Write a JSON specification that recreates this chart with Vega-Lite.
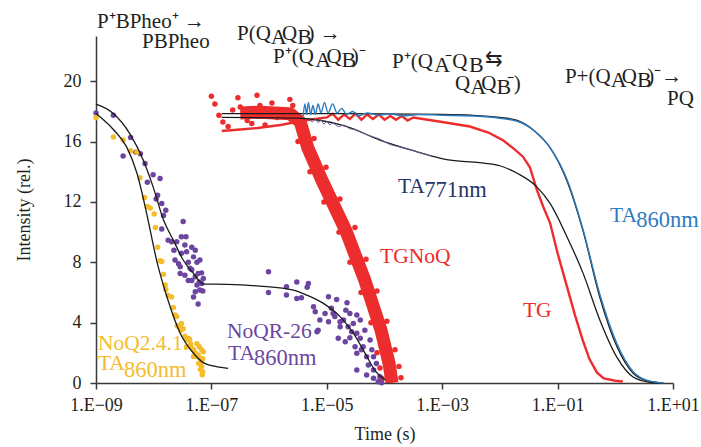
{
  "$schema": "https://vega.github.io/schema/vega-lite/v6.json",
  "width": 577,
  "height": 347,
  "autosize": "none",
  "padding": {"left": 96, "top": 36, "right": 28, "bottom": 64},
  "background": "white",
  "config": {
    "font": "Liberation Serif",
    "view": {"stroke": null},
    "axis": {
      "grid": false,
      "domainColor": "#3a3a3a",
      "domainWidth": 1.5,
      "tickColor": "#3a3a3a",
      "tickWidth": 1.5,
      "tickSize": 6,
      "labelFont": "Liberation Serif",
      "labelFontSize": 18,
      "labelColor": "#231f20",
      "titleFont": "Liberation Serif",
      "titleFontSize": 18,
      "titleFontWeight": "normal",
      "titleColor": "#231f20"
    }
  },
  "datasets": {
    "lines": [
      {"s": "TGNoQ", "t": 3.16e-7, "v": 17.9},
      {"s": "TGNoQ", "t": 6.92e-7, "v": 17.95},
      {"s": "TGNoQ", "t": 2.29e-6, "v": 17.85},
      {"s": "TGNoQ", "t": 3.47e-6, "v": 17.3},
      {"s": "TGNoQ", "t": 4.68e-6, "v": 15.6},
      {"s": "TGNoQ", "t": 8.32e-6, "v": 13.4},
      {"s": "TGNoQ", "t": 2.14e-5, "v": 10.1},
      {"s": "TGNoQ", "t": 4.57e-5, "v": 6.8},
      {"s": "TGNoQ", "t": 8.71e-5, "v": 3.5},
      {"s": "TGNoQ", "t": 1.2e-4, "v": 1.3},
      {"s": "TGNoQ", "t": 1.35e-4, "v": 0.0},

      {"s": "TG", "t": 1.51e-7, "v": 16.7},
      {"s": "TG", "t": 3.16e-7, "v": 16.8},
      {"s": "TG", "t": 6.31e-7, "v": 16.9},
      {"s": "TG", "t": 1.58e-6, "v": 17.1},
      {"s": "TG", "t": 3.98e-6, "v": 17.4},
      {"s": "TG", "t": 1.0e-5, "v": 17.6},
      {"s": "TG", "t": 1.26e-5, "v": 17.85},
      {"s": "TG", "t": 1.58e-5, "v": 17.45},
      {"s": "TG", "t": 2.0e-5, "v": 17.8},
      {"s": "TG", "t": 2.51e-5, "v": 17.5},
      {"s": "TG", "t": 3.16e-5, "v": 17.85},
      {"s": "TG", "t": 3.98e-5, "v": 17.45},
      {"s": "TG", "t": 5.01e-5, "v": 17.8},
      {"s": "TG", "t": 6.31e-5, "v": 17.5},
      {"s": "TG", "t": 7.94e-5, "v": 17.8},
      {"s": "TG", "t": 1.0e-4, "v": 17.45},
      {"s": "TG", "t": 1.26e-4, "v": 17.7},
      {"s": "TG", "t": 1.58e-4, "v": 17.45},
      {"s": "TG", "t": 2.0e-4, "v": 17.7},
      {"s": "TG", "t": 2.51e-4, "v": 17.4},
      {"s": "TG", "t": 3.16e-4, "v": 17.6},
      {"s": "TG", "t": 1.0e-3, "v": 17.3},
      {"s": "TG", "t": 3.02e-3, "v": 17.0},
      {"s": "TG", "t": 6.31e-3, "v": 16.6},
      {"s": "TG", "t": 1.12e-2, "v": 16.1},
      {"s": "TG", "t": 1.78e-2, "v": 15.5},
      {"s": "TG", "t": 2.51e-2, "v": 15.0},
      {"s": "TG", "t": 3.31e-2, "v": 14.3},
      {"s": "TG", "t": 4.37e-2, "v": 12.8},
      {"s": "TG", "t": 5.62e-2, "v": 11.7},
      {"s": "TG", "t": 7.41e-2, "v": 10.6},
      {"s": "TG", "t": 0.1, "v": 8.6},
      {"s": "TG", "t": 0.145, "v": 6.4},
      {"s": "TG", "t": 0.2, "v": 4.5},
      {"s": "TG", "t": 0.275, "v": 2.8},
      {"s": "TG", "t": 0.355, "v": 1.6},
      {"s": "TG", "t": 0.479, "v": 0.7},
      {"s": "TG", "t": 0.631, "v": 0.3},
      {"s": "TG", "t": 1.0, "v": 0.15},
      {"s": "TG", "t": 1.35, "v": 0.1},

      {"s": "fitNoQ", "t": 1.0e-9, "v": 17.86},
      {"s": "fitNoQ", "t": 2.0e-9, "v": 16.8},
      {"s": "fitNoQ", "t": 3.39e-9, "v": 15.65},
      {"s": "fitNoQ", "t": 5.13e-9, "v": 13.9},
      {"s": "fitNoQ", "t": 7.59e-9, "v": 11.2},
      {"s": "fitNoQ", "t": 1.12e-8, "v": 8.15},
      {"s": "fitNoQ", "t": 1.7e-8, "v": 5.7},
      {"s": "fitNoQ", "t": 2.88e-8, "v": 3.3},
      {"s": "fitNoQ", "t": 4.9e-8, "v": 1.97},
      {"s": "fitNoQ", "t": 7.24e-8, "v": 1.35},
      {"s": "fitNoQ", "t": 1.23e-7, "v": 1.08},
      {"s": "fitNoQ", "t": 1.95e-7, "v": 0.97},

      {"s": "fitNoQR", "t": 1.0e-9, "v": 18.48},
      {"s": "fitNoQR", "t": 2.0e-9, "v": 17.86},
      {"s": "fitNoQR", "t": 3.89e-9, "v": 16.5},
      {"s": "fitNoQR", "t": 6.61e-9, "v": 14.77},
      {"s": "fitNoQR", "t": 9.77e-9, "v": 13.0},
      {"s": "fitNoQR", "t": 1.48e-8, "v": 10.8},
      {"s": "fitNoQR", "t": 2.19e-8, "v": 9.47},
      {"s": "fitNoQR", "t": 3.24e-8, "v": 8.15},
      {"s": "fitNoQR", "t": 4.9e-8, "v": 7.26},
      {"s": "fitNoQR", "t": 7.24e-8, "v": 6.56},
      {"s": "fitNoQR", "t": 1.86e-7, "v": 6.54},
      {"s": "fitNoQR", "t": 6.92e-7, "v": 6.42},
      {"s": "fitNoQR", "t": 2.63e-6, "v": 6.16},
      {"s": "fitNoQR", "t": 4.47e-6, "v": 5.83},
      {"s": "fitNoQR", "t": 8.71e-6, "v": 5.28},
      {"s": "fitNoQR", "t": 1.7e-5, "v": 4.4},
      {"s": "fitNoQR", "t": 2.88e-5, "v": 3.3},
      {"s": "fitNoQR", "t": 4.57e-5, "v": 2.0},
      {"s": "fitNoQR", "t": 6.92e-5, "v": 0.8},
      {"s": "fitNoQR", "t": 1.02e-4, "v": 0.2},

      {"s": "fit860", "t": 1.51e-7, "v": 17.85},
      {"s": "fit860", "t": 1.0e-5, "v": 17.85},
      {"s": "fit860", "t": 1.0e-3, "v": 17.8},
      {"s": "fit860", "t": 3.16e-3, "v": 17.75},
      {"s": "fit860", "t": 1.0e-2, "v": 17.6},
      {"s": "fit860", "t": 2.0e-2, "v": 17.4},
      {"s": "fit860", "t": 3.98e-2, "v": 16.7},
      {"s": "fit860", "t": 7.41e-2, "v": 15.6},
      {"s": "fit860", "t": 0.145, "v": 13.4},
      {"s": "fit860", "t": 0.275, "v": 10.1},
      {"s": "fit860", "t": 0.537, "v": 5.7},
      {"s": "fit860", "t": 1.07, "v": 2.4},
      {"s": "fit860", "t": 2.04, "v": 0.65},
      {"s": "fit860", "t": 3.98, "v": 0.1},
      {"s": "fit860", "t": 6.76, "v": 0.0},

      {"s": "fit771", "t": 1.51e-7, "v": 17.6},
      {"s": "fit771", "t": 3.16e-6, "v": 17.55},
      {"s": "fit771", "t": 7.94e-6, "v": 17.4},
      {"s": "fit771", "t": 2.24e-5, "v": 17.0},
      {"s": "fit771", "t": 8.32e-5, "v": 16.1},
      {"s": "fit771", "t": 3.16e-4, "v": 15.4},
      {"s": "fit771", "t": 1.2e-3, "v": 14.8},
      {"s": "fit771", "t": 4.47e-3, "v": 14.6},
      {"s": "fit771", "t": 1.0e-2, "v": 14.4},
      {"s": "fit771", "t": 2.0e-2, "v": 13.9},
      {"s": "fit771", "t": 4.37e-2, "v": 13.0},
      {"s": "fit771", "t": 7.41e-2, "v": 11.9},
      {"s": "fit771", "t": 0.145, "v": 9.7},
      {"s": "fit771", "t": 0.275, "v": 7.3},
      {"s": "fit771", "t": 0.537, "v": 4.2},
      {"s": "fit771", "t": 1.07, "v": 1.7},
      {"s": "fit771", "t": 2.04, "v": 0.4},
      {"s": "fit771", "t": 3.98, "v": 0.05},
      {"s": "fit771", "t": 6.76, "v": 0.0},

      {"s": "TA860", "t": 3.89e-6, "v": 17.7},
      {"s": "TA860", "t": 4.17e-6, "v": 18.5},
      {"s": "TA860", "t": 4.47e-6, "v": 17.8},
      {"s": "TA860", "t": 4.79e-6, "v": 18.6},
      {"s": "TA860", "t": 5.25e-6, "v": 17.8},
      {"s": "TA860", "t": 5.75e-6, "v": 18.4},
      {"s": "TA860", "t": 6.31e-6, "v": 17.8},
      {"s": "TA860", "t": 7.08e-6, "v": 18.5},
      {"s": "TA860", "t": 7.94e-6, "v": 17.9},
      {"s": "TA860", "t": 9.12e-6, "v": 18.6},
      {"s": "TA860", "t": 1.05e-5, "v": 17.9},
      {"s": "TA860", "t": 1.26e-5, "v": 18.5},
      {"s": "TA860", "t": 1.51e-5, "v": 17.9},
      {"s": "TA860", "t": 1.82e-5, "v": 18.2},
      {"s": "TA860", "t": 2.19e-5, "v": 17.8},
      {"s": "TA860", "t": 2.82e-5, "v": 18.0},
      {"s": "TA860", "t": 3.55e-5, "v": 17.7},
      {"s": "TA860", "t": 5.01e-5, "v": 17.9},
      {"s": "TA860", "t": 7.94e-5, "v": 17.75},
      {"s": "TA860", "t": 1.26e-4, "v": 17.85},
      {"s": "TA860", "t": 2.0e-4, "v": 17.7},
      {"s": "TA860", "t": 3.98e-4, "v": 17.8},
      {"s": "TA860", "t": 1.0e-3, "v": 17.75},
      {"s": "TA860", "t": 3.16e-3, "v": 17.7},
      {"s": "TA860", "t": 1.0e-2, "v": 17.55},
      {"s": "TA860", "t": 2.0e-2, "v": 17.35},
      {"s": "TA860", "t": 3.98e-2, "v": 16.7},
      {"s": "TA860", "t": 7.41e-2, "v": 15.6},
      {"s": "TA860", "t": 0.145, "v": 13.5},
      {"s": "TA860", "t": 0.275, "v": 10.2},
      {"s": "TA860", "t": 0.537, "v": 5.9},
      {"s": "TA860", "t": 1.07, "v": 2.6},
      {"s": "TA860", "t": 2.04, "v": 0.75},
      {"s": "TA860", "t": 3.98, "v": 0.12},
      {"s": "TA860", "t": 6.76, "v": 0.0},

      {"s": "TA771", "t": 5.01e-6, "v": 17.45},
      {"s": "TA771", "t": 5.62e-6, "v": 17.3},
      {"s": "TA771", "t": 6.31e-6, "v": 17.5},
      {"s": "TA771", "t": 7.08e-6, "v": 17.25},
      {"s": "TA771", "t": 7.94e-6, "v": 17.45},
      {"s": "TA771", "t": 8.91e-6, "v": 17.15},
      {"s": "TA771", "t": 1.0e-5, "v": 17.35},
      {"s": "TA771", "t": 1.12e-5, "v": 17.1},
      {"s": "TA771", "t": 1.26e-5, "v": 17.25},
      {"s": "TA771", "t": 1.58e-5, "v": 17.0},
      {"s": "TA771", "t": 2.0e-5, "v": 17.1},
      {"s": "TA771", "t": 2.51e-5, "v": 16.85},
      {"s": "TA771", "t": 3.16e-5, "v": 16.8},
      {"s": "TA771", "t": 5.01e-5, "v": 16.45},
      {"s": "TA771", "t": 7.94e-5, "v": 16.2},
      {"s": "TA771", "t": 1.26e-4, "v": 15.8},
      {"s": "TA771", "t": 2.0e-4, "v": 15.6},
      {"s": "TA771", "t": 3.16e-4, "v": 15.4},
      {"s": "TA771", "t": 6.31e-4, "v": 15.05}
    ],
    "pts": [
      {"s": "TGNoQ", "t": 1.0e-7, "v": 19.0},
      {"s": "TGNoQ", "t": 1.15e-7, "v": 18.5},
      {"s": "TGNoQ", "t": 1.35e-7, "v": 17.75},
      {"s": "TGNoQ", "t": 1.58e-7, "v": 17.3},
      {"s": "TGNoQ", "t": 1.95e-7, "v": 17.0},
      {"s": "TGNoQ", "t": 2.34e-7, "v": 18.1},
      {"s": "TGNoQ", "t": 2.88e-7, "v": 18.9},
      {"s": "TGNoQ", "t": 3.16e-7, "v": 18.3},
      {"s": "TGNoQ", "t": 4.17e-7, "v": 17.4},
      {"s": "TGNoQ", "t": 5.01e-7, "v": 17.2},
      {"s": "TGNoQ", "t": 6.17e-7, "v": 19.07},
      {"s": "TGNoQ", "t": 6.92e-7, "v": 18.4},
      {"s": "TGNoQ", "t": 8.51e-7, "v": 17.1},
      {"s": "TGNoQ", "t": 1.12e-6, "v": 18.56},
      {"s": "TGNoQ", "t": 1.38e-6, "v": 17.6},
      {"s": "TGNoQ", "t": 2.29e-6, "v": 18.8},
      {"s": "TGNoQ", "t": 2.57e-6, "v": 18.4},
      {"s": "TGNoQ", "t": 3.17e-6, "v": 16.0},
      {"s": "TGNoQ", "t": 6.0e-6, "v": 16.2},
      {"s": "TGNoQ", "t": 5.12e-6, "v": 14.0},
      {"s": "TGNoQ", "t": 9.68e-6, "v": 14.3},
      {"s": "TGNoQ", "t": 8.93e-6, "v": 12.0},
      {"s": "TGNoQ", "t": 1.69e-5, "v": 12.2},
      {"s": "TGNoQ", "t": 1.63e-5, "v": 10.0},
      {"s": "TGNoQ", "t": 3.08e-5, "v": 10.3},
      {"s": "TGNoQ", "t": 2.52e-5, "v": 8.0},
      {"s": "TGNoQ", "t": 4.78e-5, "v": 8.2},
      {"s": "TGNoQ", "t": 3.92e-5, "v": 6.0},
      {"s": "TGNoQ", "t": 7.41e-5, "v": 6.1},
      {"s": "TGNoQ", "t": 5.83e-5, "v": 4.0},
      {"s": "TGNoQ", "t": 1.1e-4, "v": 4.1},
      {"s": "TGNoQ", "t": 7.41e-5, "v": 2.0},
      {"s": "TGNoQ", "t": 1.52e-4, "v": 2.2},
      {"s": "TGNoQ", "t": 8.36e-5, "v": 1.0},
      {"s": "TGNoQ", "t": 1.78e-4, "v": 1.1},
      {"s": "TGNoQ", "t": 9.06e-5, "v": 0.3},
      {"s": "TGNoQ", "t": 1.93e-4, "v": 0.35},

      {"s": "NoQ", "t": 1.0e-9, "v": 17.6},
      {"s": "NoQ", "t": 2.0e-9, "v": 16.3},
      {"s": "NoQ", "t": 2.95e-9, "v": 16.1},
      {"s": "NoQ", "t": 3.98e-9, "v": 15.4},
      {"s": "NoQ", "t": 5.13e-9, "v": 15.3},
      {"s": "NoQ", "t": 5.75e-9, "v": 13.6},
      {"s": "NoQ", "t": 6.92e-9, "v": 12.3},
      {"s": "NoQ", "t": 7.76e-9, "v": 11.7},
      {"s": "NoQ", "t": 8.71e-9, "v": 11.6},
      {"s": "NoQ", "t": 1.02e-8, "v": 11.2},
      {"s": "NoQ", "t": 1.07e-8, "v": 10.3},
      {"s": "NoQ", "t": 1.17e-8, "v": 9.0},
      {"s": "NoQ", "t": 1.29e-8, "v": 8.1},
      {"s": "NoQ", "t": 1.38e-8, "v": 8.05},
      {"s": "NoQ", "t": 1.48e-8, "v": 7.2},
      {"s": "NoQ", "t": 1.58e-8, "v": 6.5},
      {"s": "NoQ", "t": 1.62e-8, "v": 6.2},
      {"s": "NoQ", "t": 1.78e-8, "v": 5.8},
      {"s": "NoQ", "t": 2.04e-8, "v": 5.7},
      {"s": "NoQ", "t": 2.19e-8, "v": 5.0},
      {"s": "NoQ", "t": 2.34e-8, "v": 4.5},
      {"s": "NoQ", "t": 2.51e-8, "v": 4.4},
      {"s": "NoQ", "t": 2.57e-8, "v": 3.8},
      {"s": "NoQ", "t": 2.75e-8, "v": 3.7},
      {"s": "NoQ", "t": 2.95e-8, "v": 3.5},
      {"s": "NoQ", "t": 3.02e-8, "v": 3.95},
      {"s": "NoQ", "t": 3.24e-8, "v": 3.6},
      {"s": "NoQ", "t": 3.47e-8, "v": 3.1},
      {"s": "NoQ", "t": 3.72e-8, "v": 2.85},
      {"s": "NoQ", "t": 3.72e-8, "v": 2.4},
      {"s": "NoQ", "t": 3.98e-8, "v": 2.95},
      {"s": "NoQ", "t": 4.17e-8, "v": 2.9},
      {"s": "NoQ", "t": 4.37e-8, "v": 2.6},
      {"s": "NoQ", "t": 4.57e-8, "v": 2.3},
      {"s": "NoQ", "t": 4.9e-8, "v": 2.2},
      {"s": "NoQ", "t": 4.9e-8, "v": 1.75},
      {"s": "NoQ", "t": 5.25e-8, "v": 2.0},
      {"s": "NoQ", "t": 5.62e-8, "v": 1.75},
      {"s": "NoQ", "t": 5.62e-8, "v": 2.6},
      {"s": "NoQ", "t": 5.89e-8, "v": 1.85},
      {"s": "NoQ", "t": 6.03e-8, "v": 1.3},
      {"s": "NoQ", "t": 6.17e-8, "v": 2.4},
      {"s": "NoQ", "t": 6.31e-8, "v": 1.65},
      {"s": "NoQ", "t": 6.46e-8, "v": 0.9},
      {"s": "NoQ", "t": 6.61e-8, "v": 1.4},
      {"s": "NoQ", "t": 6.76e-8, "v": 1.1},
      {"s": "NoQ", "t": 6.76e-8, "v": 2.2},
      {"s": "NoQ", "t": 6.92e-8, "v": 0.55},
      {"s": "NoQ", "t": 7.08e-8, "v": 0.75},
      {"s": "NoQ", "t": 7.08e-8, "v": 1.6},
      {"s": "NoQ", "t": 7.24e-8, "v": 2.07},

      {"s": "NoQR", "t": 1.0e-9, "v": 17.9},
      {"s": "NoQR", "t": 2.0e-9, "v": 17.75},
      {"s": "NoQR", "t": 2.95e-9, "v": 15.05},
      {"s": "NoQR", "t": 3.98e-9, "v": 16.27},
      {"s": "NoQR", "t": 4.9e-9, "v": 15.3},
      {"s": "NoQR", "t": 5.89e-9, "v": 15.2},
      {"s": "NoQR", "t": 7.08e-9, "v": 14.55},
      {"s": "NoQR", "t": 7.76e-9, "v": 13.3},
      {"s": "NoQR", "t": 9.77e-9, "v": 13.8},
      {"s": "NoQR", "t": 1.29e-8, "v": 13.55},
      {"s": "NoQR", "t": 1.17e-8, "v": 12.45},
      {"s": "NoQR", "t": 1.1e-8, "v": 12.2},
      {"s": "NoQR", "t": 1.38e-8, "v": 11.9},
      {"s": "NoQR", "t": 1.48e-8, "v": 11.1},
      {"s": "NoQR", "t": 1.62e-8, "v": 11.45},
      {"s": "NoQR", "t": 1.38e-8, "v": 10.2},
      {"s": "NoQR", "t": 1.78e-8, "v": 9.47},
      {"s": "NoQR", "t": 2.04e-8, "v": 9.36},
      {"s": "NoQR", "t": 2.51e-8, "v": 9.36},
      {"s": "NoQR", "t": 3.24e-8, "v": 10.7},
      {"s": "NoQR", "t": 3.02e-8, "v": 9.7},
      {"s": "NoQR", "t": 3.63e-8, "v": 9.7},
      {"s": "NoQR", "t": 2.24e-8, "v": 8.8},
      {"s": "NoQR", "t": 2.34e-8, "v": 8.15},
      {"s": "NoQR", "t": 2.69e-8, "v": 7.9},
      {"s": "NoQR", "t": 2.88e-8, "v": 7.7},
      {"s": "NoQR", "t": 3.02e-8, "v": 8.6},
      {"s": "NoQR", "t": 3.47e-8, "v": 9.14},
      {"s": "NoQR", "t": 3.72e-8, "v": 8.7},
      {"s": "NoQR", "t": 3.98e-8, "v": 8.0},
      {"s": "NoQR", "t": 4.27e-8, "v": 7.6},
      {"s": "NoQR", "t": 4.57e-8, "v": 9.0},
      {"s": "NoQR", "t": 4.9e-8, "v": 8.36},
      {"s": "NoQR", "t": 5.25e-8, "v": 8.8},
      {"s": "NoQR", "t": 5.62e-8, "v": 8.0},
      {"s": "NoQR", "t": 6.31e-8, "v": 8.15},
      {"s": "NoQR", "t": 2.88e-8, "v": 7.26},
      {"s": "NoQR", "t": 3.47e-8, "v": 7.15},
      {"s": "NoQR", "t": 3.98e-8, "v": 6.8},
      {"s": "NoQR", "t": 4.57e-8, "v": 7.5},
      {"s": "NoQR", "t": 5.25e-8, "v": 7.04},
      {"s": "NoQR", "t": 5.89e-8, "v": 7.26},
      {"s": "NoQR", "t": 6.76e-8, "v": 7.3},
      {"s": "NoQR", "t": 7.24e-8, "v": 6.93},
      {"s": "NoQR", "t": 6.76e-8, "v": 6.6},
      {"s": "NoQR", "t": 6.17e-8, "v": 6.7},
      {"s": "NoQR", "t": 5.62e-8, "v": 6.5},
      {"s": "NoQR", "t": 5.25e-8, "v": 6.05},
      {"s": "NoQR", "t": 4.9e-8, "v": 5.7},
      {"s": "NoQR", "t": 5.89e-8, "v": 5.23},
      {"s": "NoQR", "t": 6.31e-8, "v": 6.16},
      {"s": "NoQR", "t": 7.08e-8, "v": 6.1},
      {"s": "NoQR", "t": 4.57e-8, "v": 6.8},
      {"s": "NoQR", "t": 9.77e-7, "v": 7.37},
      {"s": "NoQR", "t": 9.77e-7, "v": 6.0},
      {"s": "NoQR", "t": 2.0e-6, "v": 6.38},
      {"s": "NoQR", "t": 2.0e-6, "v": 5.83},
      {"s": "NoQR", "t": 3.02e-6, "v": 6.7},
      {"s": "NoQR", "t": 3.02e-6, "v": 5.6},
      {"s": "NoQR", "t": 3.63e-6, "v": 5.65},
      {"s": "NoQR", "t": 4.79e-6, "v": 6.6},
      {"s": "NoQR", "t": 4.57e-6, "v": 6.34},
      {"s": "NoQR", "t": 5.89e-6, "v": 5.05},
      {"s": "NoQR", "t": 6.31e-6, "v": 4.72},
      {"s": "NoQR", "t": 1.07e-5, "v": 5.72},
      {"s": "NoQR", "t": 1.48e-5, "v": 5.54},
      {"s": "NoQR", "t": 2.24e-5, "v": 5.32},
      {"s": "NoQR", "t": 2.14e-5, "v": 4.83},
      {"s": "NoQR", "t": 9.33e-6, "v": 4.6},
      {"s": "NoQR", "t": 7.59e-6, "v": 4.17},
      {"s": "NoQR", "t": 7.08e-6, "v": 3.5},
      {"s": "NoQR", "t": 6.76e-6, "v": 3.4},
      {"s": "NoQR", "t": 1.2e-5, "v": 4.95},
      {"s": "NoQR", "t": 1.38e-5, "v": 4.4},
      {"s": "NoQR", "t": 1.7e-5, "v": 4.06},
      {"s": "NoQR", "t": 1.95e-5, "v": 4.17},
      {"s": "NoQR", "t": 1.58e-5, "v": 2.96},
      {"s": "NoQR", "t": 2.09e-5, "v": 2.74},
      {"s": "NoQR", "t": 2.34e-5, "v": 3.73},
      {"s": "NoQR", "t": 2.88e-5, "v": 3.95},
      {"s": "NoQR", "t": 2.69e-5, "v": 3.4},
      {"s": "NoQR", "t": 3.31e-5, "v": 3.3},
      {"s": "NoQR", "t": 3.8e-5, "v": 2.96},
      {"s": "NoQR", "t": 3.09e-5, "v": 2.4},
      {"s": "NoQR", "t": 3.31e-5, "v": 1.97},
      {"s": "NoQR", "t": 4.27e-5, "v": 2.4},
      {"s": "NoQR", "t": 4.9e-5, "v": 1.74},
      {"s": "NoQR", "t": 5.25e-5, "v": 1.19},
      {"s": "NoQR", "t": 3.31e-5, "v": 0.86},
      {"s": "NoQR", "t": 4.9e-5, "v": 0.53},
      {"s": "NoQR", "t": 6.46e-5, "v": 0.86},
      {"s": "NoQR", "t": 6.46e-5, "v": 0.31},
      {"s": "NoQR", "t": 7.76e-5, "v": 0.09},
      {"s": "NoQR", "t": 7.24e-5, "v": 1.3},
      {"s": "NoQR", "t": 8.32e-5, "v": 0.42},
      {"s": "NoQR", "t": 8.91e-5, "v": 0.02},
      {"s": "NoQR", "t": 5.62e-5, "v": 2.85},
      {"s": "NoQR", "t": 4.57e-5, "v": 3.5},
      {"s": "NoQR", "t": 3.8e-5, "v": 4.17},
      {"s": "NoQR", "t": 3.31e-5, "v": 4.5},
      {"s": "NoQR", "t": 2.51e-5, "v": 4.6},
      {"s": "NoQR", "t": 1.29e-5, "v": 4.6},
      {"s": "NoQR", "t": 1.7e-5, "v": 3.73},
      {"s": "NoQR", "t": 1.07e-5, "v": 4.06},
      {"s": "NoQR", "t": 2.51e-5, "v": 3.0},
      {"s": "NoQR", "t": 3.98e-5, "v": 2.2},
      {"s": "NoQR", "t": 6.46e-5, "v": 1.74},
      {"s": "NoQR", "t": 6.03e-5, "v": 2.2}
    ],
    "labels": [
      {"s": "ann", "r": "m", "t": 1.04e-9, "v": 23.51, "txt": "P⁺BPheo⁺ →"},
      {"s": "ann", "r": "m", "t": 6.27e-9, "v": 22.2, "txt": "PBPheo"},
      {"s": "ann", "r": "m", "t": 2.78e-7, "v": 22.73, "txt": "P(Q"},
      {"s": "ann", "r": "s", "t": 1.07e-6, "v": 22.47, "txt": "A"},
      {"s": "ann", "r": "m", "t": 1.67e-6, "v": 22.73, "txt": "Q"},
      {"s": "ann", "r": "s", "t": 3.06e-6, "v": 22.47, "txt": "B"},
      {"s": "ann", "r": "m", "t": 4.62e-6, "v": 22.73, "txt": ") →"},
      {"s": "ann", "r": "m", "t": 1.17e-6, "v": 21.19, "txt": "P⁺(Q"},
      {"s": "ann", "r": "s", "t": 6.32e-6, "v": 20.94, "txt": "A"},
      {"s": "ann", "r": "m", "t": 9.85e-6, "v": 21.19, "txt": "Q"},
      {"s": "ann", "r": "s", "t": 1.8e-5, "v": 20.94, "txt": "B"},
      {"s": "ann", "r": "m", "t": 2.72e-5, "v": 21.19, "txt": ")⁻"},
      {"s": "ann", "r": "m", "t": 1.35e-4, "v": 20.85, "txt": "P⁺(Q"},
      {"s": "ann", "r": "s", "t": 7.29e-4, "v": 20.61, "txt": "A"},
      {"s": "ann", "r": "m", "t": 1.13e-3, "v": 20.85, "txt": "⁻Q"},
      {"s": "ann", "r": "s", "t": 2.91e-3, "v": 20.61, "txt": "B"},
      {"s": "ann", "r": "m", "t": 5.6e-3, "v": 20.99, "txt": "⇆"},
      {"s": "ann", "r": "m", "t": 1.67e-3, "v": 19.42, "txt": "Q"},
      {"s": "ann", "r": "s", "t": 3.05e-3, "v": 19.18, "txt": "A"},
      {"s": "ann", "r": "m", "t": 4.76e-3, "v": 19.42, "txt": "Q"},
      {"s": "ann", "r": "s", "t": 8.74e-3, "v": 19.18, "txt": "B"},
      {"s": "ann", "r": "m", "t": 1.32e-2, "v": 19.42, "txt": "⁻)"},
      {"s": "ann", "r": "m", "t": 0.134, "v": 19.86, "txt": "P+(Q"},
      {"s": "ann", "r": "s", "t": 0.832, "v": 19.62, "txt": "A"},
      {"s": "ann", "r": "m", "t": 1.296, "v": 19.86, "txt": "Q"},
      {"s": "ann", "r": "s", "t": 2.37, "v": 19.62, "txt": "B"},
      {"s": "ann", "r": "m", "t": 3.59, "v": 19.86, "txt": ")⁻→"},
      {"s": "ann", "r": "m", "t": 7.87, "v": 18.42, "txt": "PQ"},
      {"s": "TGNoQ", "r": "l", "t": 8.36e-5, "v": 7.95, "txt": "TGNoQ"},
      {"s": "TG", "r": "l", "t": 2.51e-2, "v": 4.37, "txt": "TG"},
      {"s": "TA771", "r": "l", "t": 1.71e-4, "v": 12.59, "txt": "TA"},
      {"s": "TA771", "r": "n", "t": 4.9e-4, "v": 12.33, "txt": "771nm"},
      {"s": "TA860", "r": "l", "t": 0.809, "v": 10.67, "txt": "TA"},
      {"s": "TA860", "r": "n", "t": 2.3, "v": 10.34, "txt": "860nm"},
      {"s": "NoQR", "r": "l", "t": 1.86e-7, "v": 2.98, "txt": "NoQR-26"},
      {"s": "NoQR", "r": "l", "t": 1.94e-7, "v": 1.52, "txt": "TA"},
      {"s": "NoQR", "r": "n", "t": 5.5e-7, "v": 1.19, "txt": "860nm"},
      {"s": "NoQ", "r": "l", "t": 1.08e-9, "v": 2.19, "txt": "NoQ2.4.1."},
      {"s": "NoQ", "r": "l", "t": 1.08e-9, "v": 0.86, "txt": "TA"},
      {"s": "NoQ", "r": "n", "t": 3.07e-9, "v": 0.4, "txt": "860nm"}
    ]
  },
  "encoding": {
    "x": {
      "field": "t",
      "type": "quantitative",
      "scale": {"type": "log", "domain": [1e-9, 10], "nice": false},
      "axis": {
        "title": "Time (s)",
        "values": [1e-9, 1e-7, 1e-5, 1e-3, 1e-1, 10],
        "labelExpr": "'1.E' + (round(log(datum.value)/LN10) < 0 ? '−' : '+') + (abs(round(log(datum.value)/LN10)) < 10 ? '0' : '') + abs(round(log(datum.value)/LN10))",
        "labelPadding": 7,
        "titlePadding": 11,
        "labelFlush": false
      }
    },
    "y": {
      "field": "v",
      "type": "quantitative",
      "scale": {"domain": [0, 23], "nice": false, "zero": true},
      "axis": {
        "title": "Intensity (rel.)",
        "values": [0, 4, 8, 12, 16, 20],
        "labelPadding": 9,
        "titlePadding": 30
      }
    }
  },
  "layer": [
    {
      "data": {"name": "lines"},
      "transform": [{"filter": "datum.s === 'TGNoQ'"}],
      "mark": {"type": "line", "color": "#ED2D2D", "strokeWidth": 13, "strokeJoin": "round", "strokeCap": "butt", "clip": true}
    },
    {
      "data": {"name": "pts"},
      "transform": [{"filter": "datum.s === 'TGNoQ'"}],
      "mark": {"type": "point", "filled": true, "color": "#ED2D2D", "size": 30, "opacity": 1}
    },
    {
      "data": {"name": "lines"},
      "transform": [{"filter": "datum.s === 'TG'"}],
      "mark": {"type": "line", "color": "#ED2D2D", "strokeWidth": 2.4}
    },
    {
      "data": {"name": "pts"},
      "transform": [{"filter": "datum.s === 'NoQR'"}],
      "mark": {"type": "point", "filled": true, "color": "#6B45A0", "size": 30, "opacity": 1}
    },
    {
      "data": {"name": "pts"},
      "transform": [{"filter": "datum.s === 'NoQ'"}],
      "mark": {"type": "point", "filled": true, "color": "#F5BD2B", "size": 30, "opacity": 1}
    },
    {
      "data": {"name": "lines"},
      "transform": [{"filter": "indexof(['fitNoQ','fitNoQR','fit860','fit771'], datum.s) >= 0"}],
      "mark": {"type": "line", "color": "#1a1a1a", "strokeWidth": 1.3, "interpolate": "monotone"},
      "encoding": {"detail": {"field": "s", "type": "nominal"}}
    },
    {
      "data": {"name": "lines"},
      "transform": [{"filter": "datum.s === 'TA860'"}],
      "mark": {"type": "line", "color": "#2A7BBF", "strokeWidth": 1.4, "interpolate": "monotone"}
    },
    {
      "data": {"name": "lines"},
      "transform": [{"filter": "datum.s === 'TA771'"}],
      "mark": {"type": "line", "color": "#6A5C92", "strokeWidth": 1}
    },
    {
      "data": {"name": "labels"},
      "mark": {"type": "text", "align": "left", "baseline": "alphabetic", "font": "Liberation Serif"},
      "encoding": {
        "text": {"field": "txt"},
        "color": {
          "field": "s",
          "type": "nominal",
          "scale": {
            "domain": ["ann", "TGNoQ", "TG", "TA771", "TA860", "NoQR", "NoQ"],
            "range": ["#231f20", "#ED2D2D", "#ED2D2D", "#27336A", "#2F7BBF", "#6B47A0", "#F4BC2B"]
          },
          "legend": null
        },
        "size": {
          "field": "r",
          "type": "ordinal",
          "scale": {"domain": ["m", "l", "s", "n"], "range": [21, 22.5, 14.5, 15.5]},
          "legend": null
        }
      }
    }
  ]
}
